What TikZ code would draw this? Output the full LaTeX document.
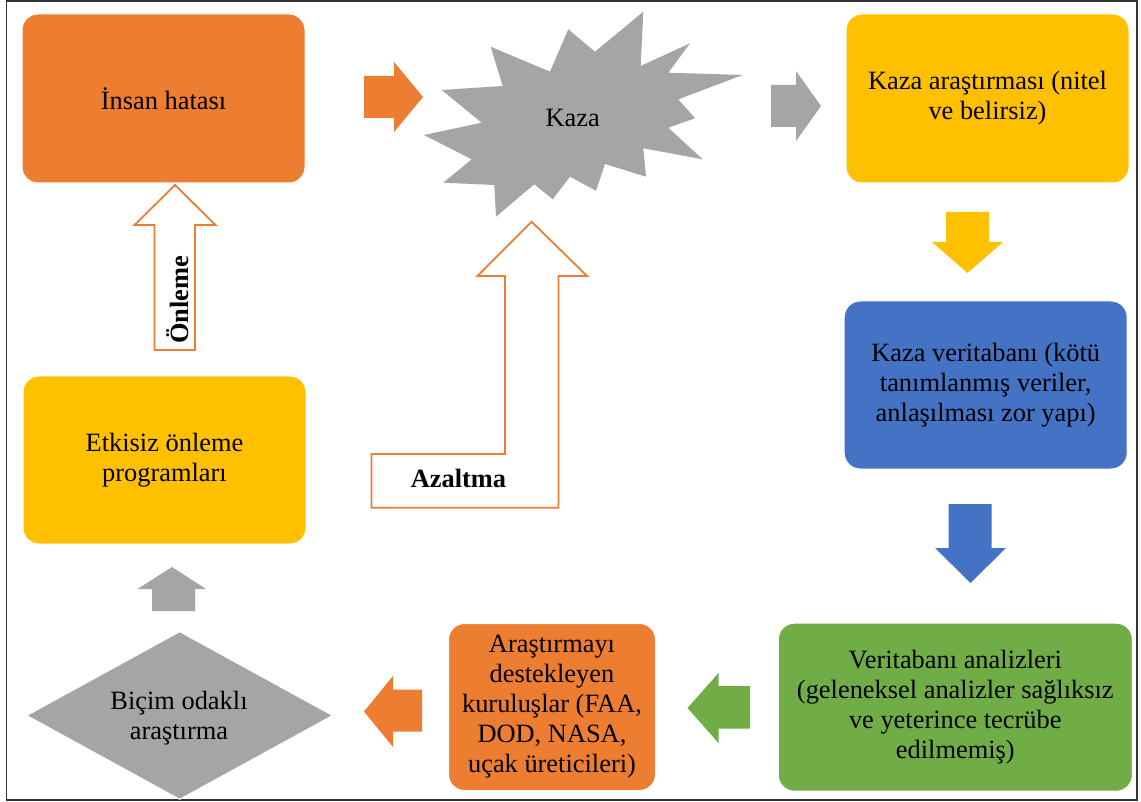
\documentclass[tikz,border=0pt]{standalone}
\usepackage{fontspec}
\setmainfont{Liberation Serif}
\definecolor{accorange}{HTML}{ED7D31}
\definecolor{accgray}{HTML}{A5A5A5}
\definecolor{accyellow}{HTML}{FFC000}
\definecolor{accblue}{HTML}{4472C4}
\definecolor{accgreen}{HTML}{70AD47}
\begin{document}
\begin{tikzpicture}[x=1pt,y=-1pt,
  every node/.style={font=\fontsize{26.4}{30}\selectfont, text=black},
  box/.style={rectangle, rounded corners=16pt, draw=white, line width=1pt, inner sep=0pt, align=center},
  hollow/.style={draw=accorange, line width=1.8pt, fill=white, line join=miter},
  lbl/.style={font=\fontsize{26.4}{30}\selectfont\bfseries, inner sep=0pt}
]
\useasboundingbox (0,0) rectangle (1141,802);
\fill[white] (0,0) rectangle (1141,802);
\draw[gray!40!black, line width=1.2pt] (6.5,1) rectangle (1137,800);

% boxes
\node[box, fill=accorange, minimum width=283pt, minimum height=169pt] (insan) at (163.5,98.5) {İnsan hatası};
\node[box, fill=accyellow, minimum width=283pt, minimum height=169pt] (arastirma) at (987.5,98.5) {Kaza araştırması (nitel\\ve belirsiz)};
\node[box, fill=accblue, minimum width=283pt, minimum height=168pt] (veritabani) at (985.7,385) {Kaza veritabanı (kötü\\tanımlanmış veriler,\\anlaşılması zor yapı)};
\node[box, fill=accgreen, minimum width=354pt, minimum height=168pt] (analiz) at (955.3,707.2) {Veritabanı analizleri\\(geleneksel analizler sağlıksız\\ve yeterince tecrübe\\edilmemiş)};
\node[box, fill=accorange, minimum width=207pt, minimum height=167pt] (kurulus) at (552,707) {Araştırmayı\\destekleyen\\kuruluşlar (FAA,\\DOD, NASA,\\uçak üreticileri)};
\node[box, fill=accyellow, minimum width=283pt, minimum height=168pt] (etkisiz) at (164.5,460) {Etkisiz önleme\\programları};

% diamond
\fill[accgray, draw=white, line width=1pt] (179.7,631.7) -- (332.6,715.5) -- (179.7,799.3) -- (26.8,715.5) -- cycle;
\node[align=center, inner sep=0pt] (bicim) at (179,718) {Biçim odaklı\\araştırma};

% starburst
\fill[accgray] (441.7,90) -- (502.7,86) -- (490.7,46.7) -- (550,71.7) -- (568.3,29.3) -- (595,51.7)
  -- (643.3,11.7) -- (640.7,66) -- (690,43.3) -- (668.3,72.7) -- (742.7,75) -- (678.3,99.3)
  -- (695,118.3) -- (668.3,127.7) -- (702.7,159.3) -- (643.3,148.3) -- (646,176.7) -- (605,164)
  -- (596,190.7) -- (570,176.7) -- (552.7,199.3) -- (534.3,184.3) -- (496,216.7) -- (494.3,185)
  -- (443.3,182.7) -- (471.7,159.3) -- (424,135) -- (481.7,122.7) -- cycle;
\node[inner sep=0pt] (kaza) at (572.7,118) {Kaza};

% block arrows
\fill[accorange] (364,76) -- (394,76) -- (394,62) -- (423,97) -- (394,132) -- (394,118) -- (364,118) -- cycle;
\fill[accgray] (771,85) -- (796,85) -- (796,71) -- (821,106) -- (796,141) -- (796,127) -- (771,127) -- cycle;
\fill[accyellow] (946,212) -- (989,212) -- (989,242) -- (1003,242) -- (967.5,273) -- (932,242) -- (946,242) -- cycle;
\fill[accblue] (948.5,504) -- (991.5,504) -- (991.5,548) -- (1006,548) -- (970.5,583) -- (935,548) -- (948.5,548) -- cycle;
\fill[accgreen] (750,686) -- (718.5,686) -- (718.5,673) -- (687.5,708) -- (718.5,743) -- (718.5,728.5) -- (750,728.5) -- cycle;
\fill[accorange] (422,689.5) -- (393,689.5) -- (393,676) -- (364,711.5) -- (393,747) -- (393,731.5) -- (422,731.5) -- cycle;
\fill[accgray] (152,611) -- (152,589) -- (137.5,589) -- (172,567) -- (206,589) -- (195,589) -- (195,611) -- cycle;

% hollow arrows
\draw[hollow] (175,185) -- (215.5,225) -- (195,225) -- (195,350) -- (154.5,350) -- (154.5,225) -- (134.5,225) -- cycle;
\node[lbl, rotate=90] (onleme) at (178,300) {Önleme};
\draw[hollow] (531.6,221.7) -- (587,276) -- (558.5,276) -- (558.5,507.7) -- (371.5,507.7) -- (371.5,454) -- (505,454) -- (505,276) -- (477.5,276) -- cycle;
\node[lbl] (azaltma) at (458.5,478) {Azaltma};
\end{tikzpicture}
\end{document}
